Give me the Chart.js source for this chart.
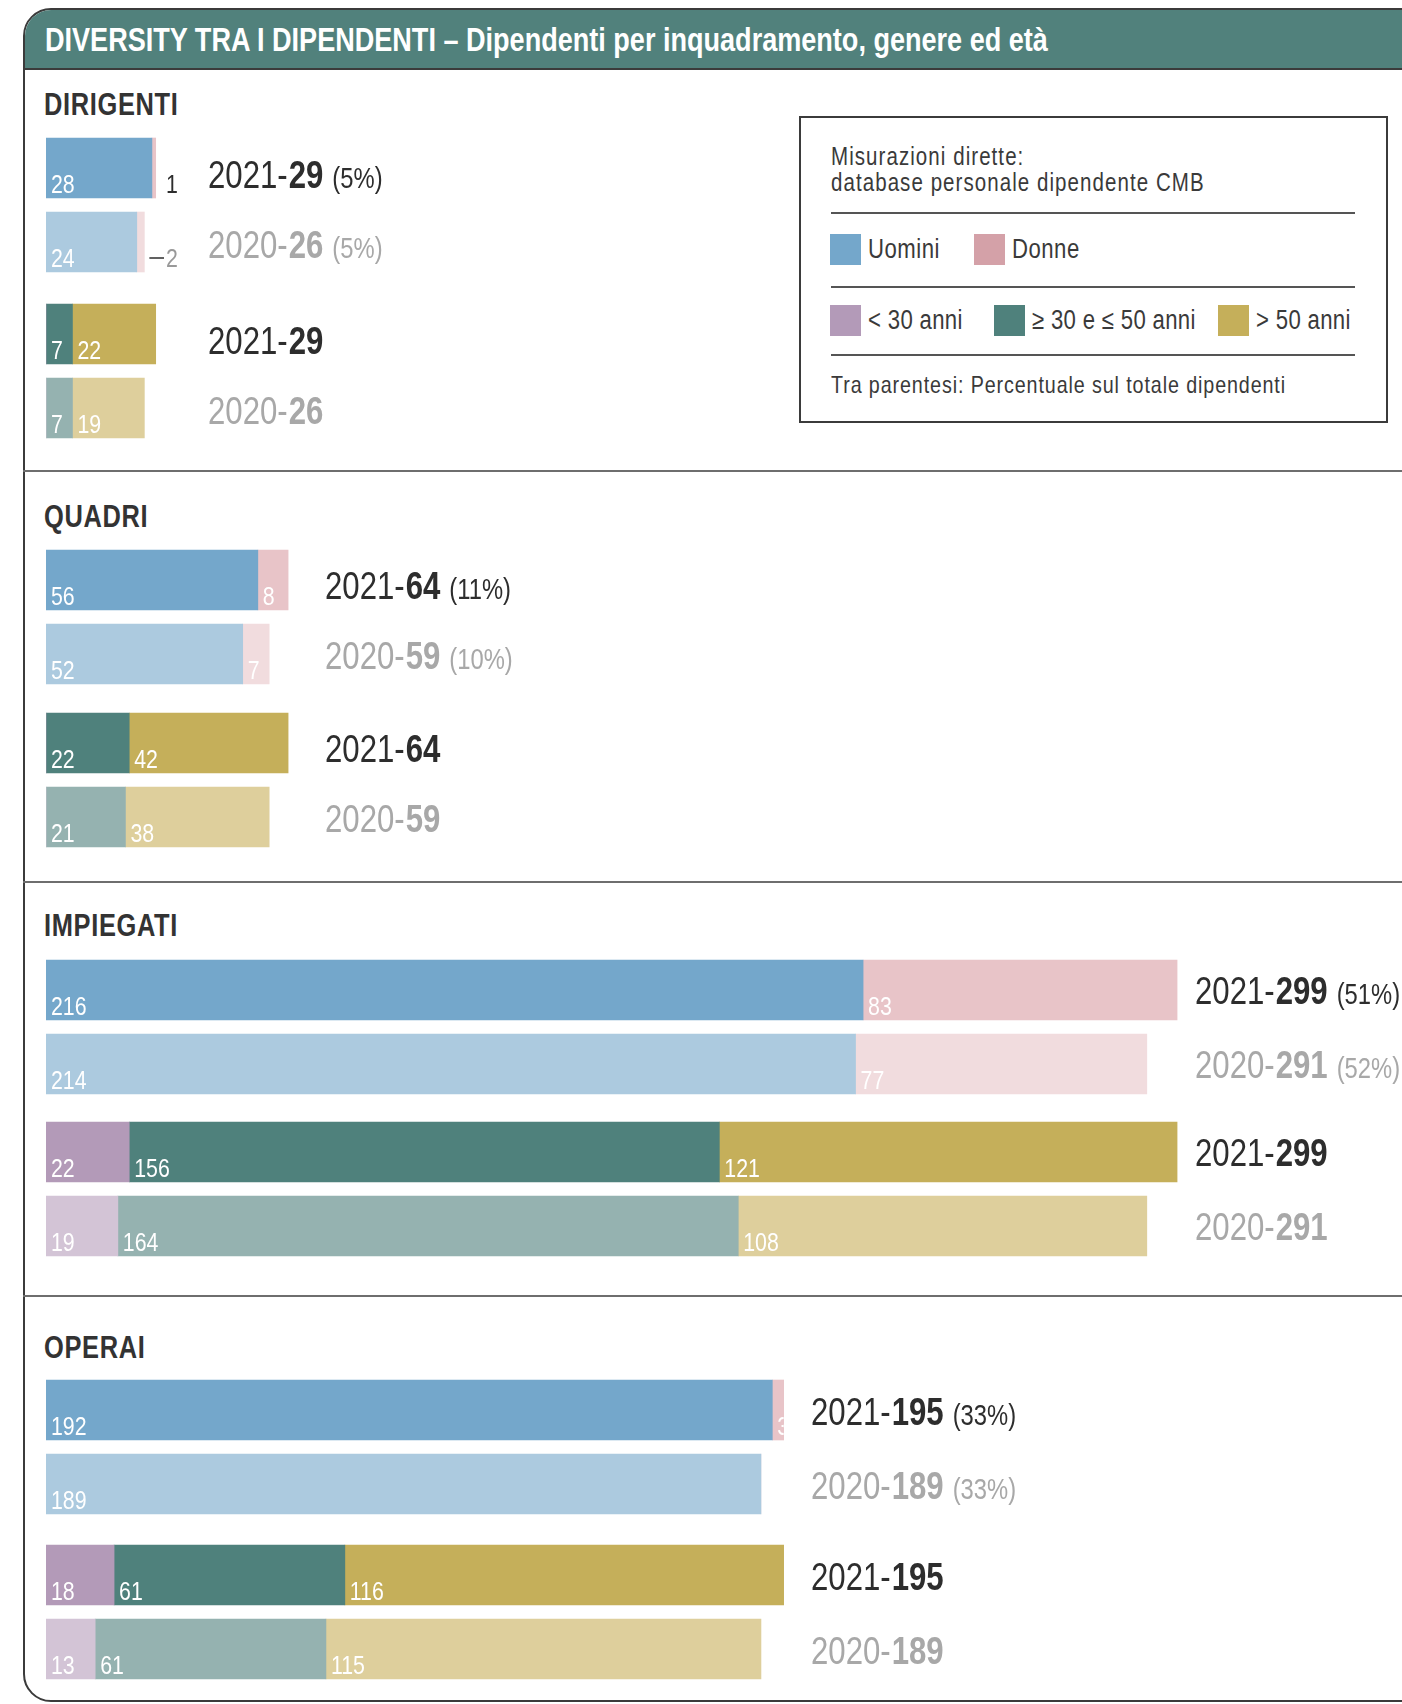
<!DOCTYPE html>
<html>
<head>
<meta charset="utf-8">
<script src="https://cdn.jsdelivr.net/npm/chart.js@4"></script>
<style>
  body { margin: 0; background: #fff; }
  #page { position: relative; width: 1402px; height: 1704px; overflow: hidden; background: #fff;
    font-family: "Liberation Sans", Arial, sans-serif; color: #333; }
  .frame { position: absolute; left: 23px; top: 8px; width: 1420px; height: 1694px; border: 2px solid #3b3b3b;
    border-radius: 28px 0 0 28px; box-sizing: border-box; overflow: hidden; }
  .head { position: absolute; left: 0; top: 0; right: 0; height: 58px; background: #51817c; border-bottom: 2px solid #3b3b3b; }
  .narrow { transform: scaleX(0.82); transform-origin: 0 0; }
  .head span { position: absolute; left: 20px; top: 13px; font-size: 33px; line-height: 33px; font-weight: bold; color: #fff; white-space: nowrap; }
  .rule { position: absolute; left: 23px; width: 1379px; height: 2px; background: #6e6e6e; }
  .title { position: absolute; left: 44px; font-size: 31px; line-height: 31px; font-weight: bold; color: #333; letter-spacing: 0.8px; }
  .abs { position: absolute; white-space: nowrap; }
  canvas { position: absolute; left: 0; }
</style>
</head>
<body>
<div id="page">
  <div class="frame"><div class="head"><span class="narrow">DIVERSITY TRA I DIPENDENTI – Dipendenti per inquadramento, genere ed età</span></div></div>
</div>
<script>
const FONT = '"Liberation Sans", Arial, sans-serif';
const SX = 0.82; // horizontal squeeze for a condensed look

// categories and series, each pair is [2021, 2020]
const sections = ['DIRIGENTI', 'QUADRI', 'IMPIEGATI', 'OPERAI'];
const years = ['2021', '2020'];
const genderNames = ['Uomini', 'Donne'];
const ageNames = ['< 30 anni', '≥ 30 e ≤ 50 anni', '> 50 anni'];

const uomini = [[28, 24], [56, 52], [216, 214], [192, 189]];
const donne = [[1, 2], [8, 7], [83, 77], [3, 0]];
const sotto30 = [[0, 0], [0, 0], [22, 19], [18, 13]];
const tra30e50 = [[7, 7], [22, 21], [156, 164], [61, 61]];
const oltre50 = [[22, 19], [42, 38], [121, 108], [116, 115]];
const quota = [[5, 5], [11, 10], [51, 52], [33, 33]];

// colours: [2021, 2020] shade per series
const genderColors = [['#74a7cb', '#accadf'], ['#e8c4c8', '#f1dcde']];
const ageColors = [['#b39ab8', '#d3c4d6'], ['#4f817c', '#95b2b0'], ['#c5af5a', '#decf9c']];
const legendGender = ['#74a7cb', '#d4a1a8'];
const legendAge = ['#b39ab8', '#4f817c', '#c5af5a'];
const textColors = ['#2d2d2d', '#a8a8a8'];

// page layout
const layout = {
  titleTop: [93, 505, 914, 1336],
  genderTop: [131, 543, 953, 1373],
  ageTop: [297, 706, 1115, 1538],
  ruleY: [470, 881, 1295],
  textX: [208, 325, 1195, 811],
  textShift: [[6, 2], [5, 1], [0, 0], [1, 1]],
  outsideX: 166
};

const page = document.getElementById('page');

function addEl(cls, text, css) {
  const el = document.createElement('div');
  el.className = cls;
  if (text) el.textContent = text;
  Object.assign(el.style, css);
  page.appendChild(el);
  return el;
}

layout.ruleY.forEach(y => addEl('rule', '', { top: y + 'px' }));
sections.forEach((name, s) => addEl('title narrow', name, { top: (layout.titleTop[s] - 4) + 'px' }));

// legend box
addEl('abs', '', { left: '799px', top: '116px', width: '589px', height: '307px', border: '2px solid #3b3b3b', boxSizing: 'border-box' });
function legendText(text, left, baseline, size, spacing) {
  addEl('abs narrow', text, { left: left + 'px', top: (baseline - 0.8465 * size) + 'px', fontSize: size + 'px',
    lineHeight: size + 'px', color: '#3a3a3a', letterSpacing: spacing + 'px' });
}
legendText('Misurazioni dirette:', 831, 165, 25, 1.3);
legendText('database personale dipendente CMB', 831, 191, 25, 1.3);
[212, 286, 354].forEach(y => addEl('abs', '', { left: '831px', top: y + 'px', width: '524px', height: '2px', background: '#555' }));
const genderKeyX = [830, 974];
genderNames.forEach((n, i) => {
  addEl('abs', '', { left: genderKeyX[i] + 'px', top: '234px', width: '31px', height: '31px', background: legendGender[i] });
  legendText(n, genderKeyX[i] + 38, 259, 27, 0.6);
});
const ageKeyX = [830, 994, 1218];
ageNames.forEach((n, i) => {
  addEl('abs', '', { left: ageKeyX[i] + 'px', top: '305px', width: '31px', height: '31px', background: legendAge[i] });
  legendText(n, ageKeyX[i] + 38, 330, 27, 0.4);
});
legendText('Tra parentesi: Percentuale sul totale dipendenti', 831, 393, 24, 1.1);

// condensed text on the canvas; returns the drawn width
function narrowText(ctx, text, x, y) {
  ctx.save();
  ctx.translate(x, y);
  ctx.scale(SX, 1);
  ctx.fillText(text, 0, 0);
  ctx.restore();
  return ctx.measureText(text).width * SX;
}

// value labels inside the bars and totals to the right of each row
const rowText = {
  id: 'rowText',
  afterDatasetsDraw(chart, args, opts) {
    const ctx = chart.ctx;
    chart.data.datasets.forEach((ds, di) => {
      chart.getDatasetMeta(di).data.forEach((bar, i) => {
        const v = ds.data[i];
        if (!v) return;
        const p = bar.getProps(['x', 'y', 'base', 'height'], true);
        const left = Math.min(p.base, p.x), right = Math.max(p.base, p.x);
        const top = p.y - p.height / 2, bottom = p.y + p.height / 2;
        ctx.save();
        ctx.font = '26px ' + FONT;
        ctx.textBaseline = 'alphabetic';
        if (right - left < 10) {
          // segment too thin: put the number beside the bar
          const lx = layout.outsideX;
          ctx.fillStyle = i === 0 ? '#2d2d2d' : '#999';
          narrowText(ctx, String(v), lx, bottom - 5);
          if (lx - right > 12) {
            ctx.strokeStyle = '#2d2d2d';
            ctx.lineWidth = 1.5;
            ctx.beginPath();
            ctx.moveTo(right + 5, bottom - 14);
            ctx.lineTo(lx - 2, bottom - 14);
            ctx.stroke();
          }
        } else {
          ctx.beginPath();
          ctx.rect(left, top, right - left, p.height);
          ctx.clip();
          ctx.fillStyle = '#fff';
          narrowText(ctx, String(v), left + 5, bottom - 5);
        }
        ctx.restore();
      });
    });

    const s = opts.section;
    years.forEach((yr, i) => {
      const total = chart.data.datasets.reduce((sum, ds) => sum + ds.data[i], 0);
      const y = chart.scales.y.getPixelForValue(i) + layout.textShift[s][i] + 14;
      const parts = [
        { t: yr + '-', f: '38px ' + FONT, gap: 1 },
        { t: String(total), f: 'bold 38px ' + FONT, gap: 9 }
      ];
      if (opts.kind === 'gender') parts.push({ t: '(' + quota[s][i] + '%)', f: '29px ' + FONT, gap: 0 });
      let x = layout.textX[s];
      ctx.save();
      ctx.fillStyle = textColors[i];
      ctx.textBaseline = 'alphabetic';
      parts.forEach(pt => {
        ctx.font = pt.f;
        x += narrowText(ctx, pt.t, x, y) + pt.gap;
      });
      ctx.restore();
    });
  }
};

function makeChart(s, kind) {
  const canvas = document.createElement('canvas');
  canvas.width = 1402;
  canvas.height = 148;
  canvas.style.top = (kind === 'gender' ? layout.genderTop[s] : layout.ageTop[s]) + 'px';
  page.appendChild(canvas);

  const datasets = kind === 'gender'
    ? [
        { label: genderNames[0], data: uomini[s], backgroundColor: genderColors[0] },
        { label: genderNames[1], data: donne[s], backgroundColor: genderColors[1] }
      ]
    : [
        { label: ageNames[0], data: sotto30[s], backgroundColor: ageColors[0] },
        { label: ageNames[1], data: tra30e50[s], backgroundColor: ageColors[1] },
        { label: ageNames[2], data: oltre50[s], backgroundColor: ageColors[2] }
      ];

  return new Chart(canvas.getContext('2d'), {
    type: 'bar',
    data: { labels: years, datasets: datasets },
    options: {
      indexAxis: 'y',
      responsive: false,
      animation: false,
      layout: { padding: { left: 46, right: 32, top: 0, bottom: 0 } },
      datasets: { bar: { barThickness: 60, borderWidth: 0 } },
      scales: {
        x: { stacked: true, min: 0, max: 350, display: false },
        y: { stacked: true, display: false }
      },
      plugins: {
        legend: { display: false },
        tooltip: { enabled: false },
        rowText: { section: s, kind: kind }
      }
    },
    plugins: [rowText]
  });
}

sections.forEach((name, s) => {
  makeChart(s, 'gender');
  makeChart(s, 'age');
});
</script>
</body>
</html>
